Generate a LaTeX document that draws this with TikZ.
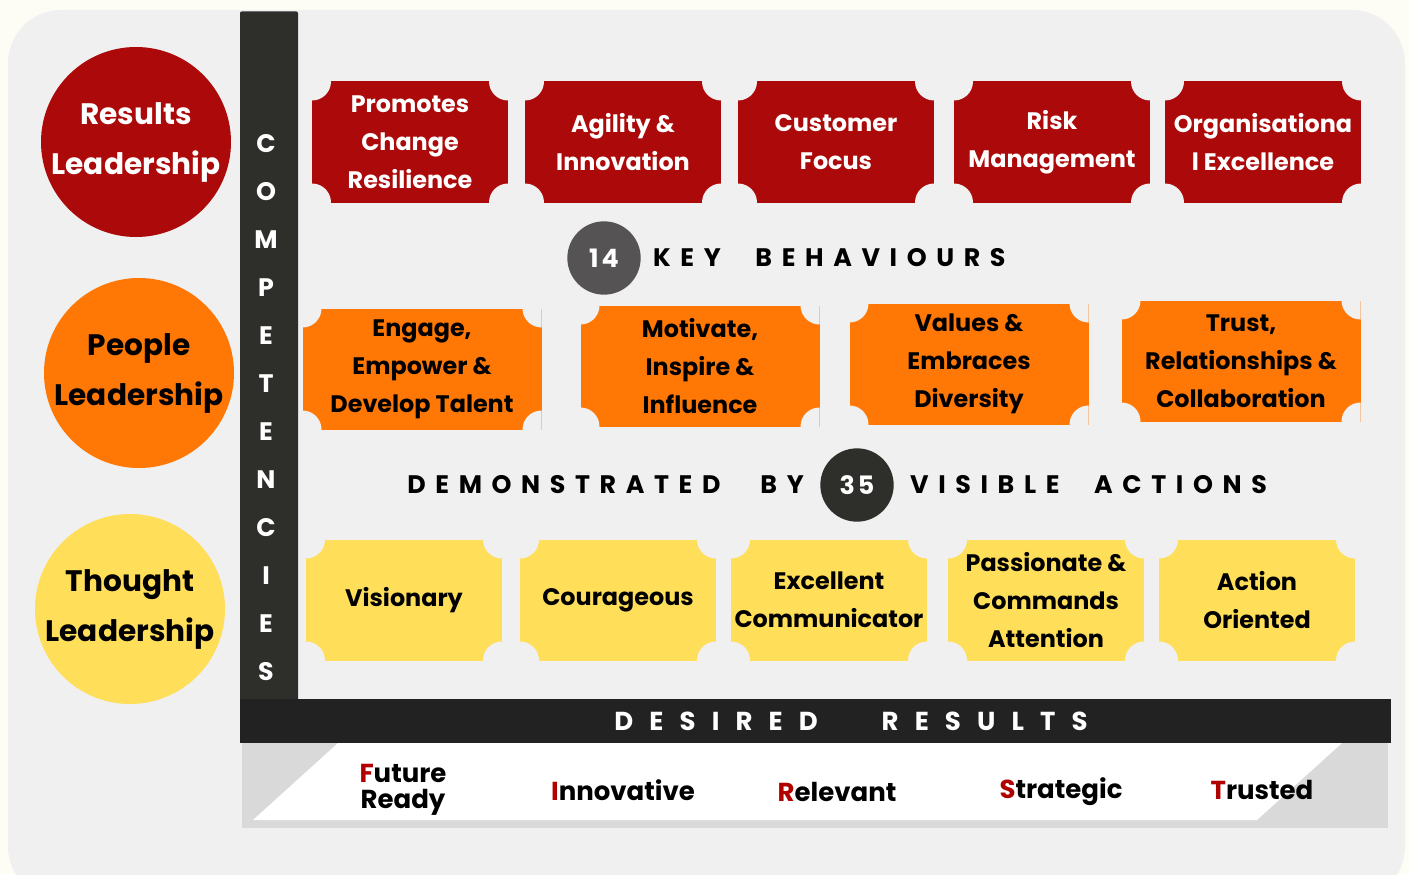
\documentclass[tikz,border=0pt]{standalone}
\usepackage{fontspec}
\setmainfont{Poppins}
\usetikzlibrary{positioning}

\definecolor{cream}{HTML}{FDFDF5}
\definecolor{panel}{HTML}{F0F0F0}
\definecolor{resred}{HTML}{AC0A0A}
\definecolor{peoorange}{HTML}{FF7805}
\definecolor{thoyellow}{HTML}{FFDE59}
\definecolor{barblack}{HTML}{2E2E2B}
\definecolor{bandblack}{HTML}{222222}
\definecolor{bandgray}{HTML}{D9D9D9}
\definecolor{numgray}{HTML}{555353}
\definecolor{initred}{HTML}{B00000}

\newcommand{\spaced}{\addfontfeatures{LetterSpace=38}}
\newcommand{\widespaced}{\addfontfeatures{LetterSpace=62}}

\begin{document}
\begin{tikzpicture}[x=0.75pt,y=-0.75pt,
    lead node/.style={circle,minimum size=142.5pt,inner sep=0pt,align=center,
                      font=\bfseries\fontsize{22.2}{37.5}\selectfont},
    ticket/.style={minimum width=147pt,minimum height=90.75pt,inner sep=0pt,align=center,
                   font=\bfseries\fontsize{17.9}{28.5}\selectfont,
                   path picture={\foreach \c in {north west,north east,south west,south east}
                     \fill[panel] (path picture bounding box.\c) circle[radius=14.25pt];}},
    wide ticket/.style={ticket,minimum width=179.25pt},
    count node/.style={circle,minimum size=55pt,inner sep=0pt,text=white,
                       font=\bfseries\fontsize{19}{19}\selectfont\addfontfeatures{LetterSpace=12}},
    heading/.style={inner sep=0pt,font=\bfseries\fontsize{19}{19}\selectfont\spaced},
    vert letter/.style={text=white,inner sep=0pt,font=\bfseries\fontsize{19}{19}\selectfont},
    result/.style={inner sep=0pt,align=center,font=\bfseries\fontsize{19.5}{19.5}\selectfont}]

  % background
  \fill[cream] (0,0) rectangle (1409,874);
  \useasboundingbox (0,0) rectangle (1409,874);
  \fill[panel,rounded corners=40pt] (8,10) rectangle (1405,900);

  % competencies bar
  \node[fill=barblack,rounded corners=1.5pt,minimum width=43.5pt,minimum height=517pt,inner sep=0pt] (comp) at (269,356) {};
  \foreach \l [count=\i] in {C,O,M,P,E,T,E,N,C,I,E,S}
    \node[vert letter] (let\i) at (266,96+48*\i) {\l};

  % leadership circles
  \node[lead node,fill=resred,text=white] (results) at (136,142) {Results\\Leadership};
  \node[lead node,fill=peoorange] (people) at (139,373) {People\\Leadership};
  \node[lead node,fill=thoyellow] (thought) at (130,609) {Thought\\Leadership};

  % results row
  \node[ticket,fill=resred,text=white] (res1) at (410,142) {Promotes\\Change\\Resilience};
  \node[ticket,fill=resred,text=white] (res2) at (623,142) {Agility \&\\Innovation};
  \node[ticket,fill=resred,text=white] (res3) at (836,142) {Customer\\Focus};
  \node[ticket,fill=resred,text=white] (res4) at (1052,142) {Risk\\Management};
  \node[ticket,fill=resred,text=white] (res5) at (1263,142) {Organisationa\\l Excellence};

  \node[count node,fill=numgray] (n14) at (604,258) {14};
  \node[heading,anchor=west,right=9pt of n14] (keyb) {KEY\hspace{26pt}BEHAVIOURS};

  % people row
  \node[wide ticket,fill=peoorange] (peo1) at (422,369) {Engage,\\Empower \&\\Develop Talent};
  \node[wide ticket,fill=peoorange] (peo2) at (700,366) {Motivate,\\Inspire \&\\Influence};
  \node[wide ticket,fill=peoorange] (peo3) at (969,364) {Values \&\\Embraces\\Diversity};
  \node[wide ticket,fill=peoorange] (peo4) at (1241,361) {Trust,\\Relationships \&\\Collaboration};

  \node[count node,fill=barblack] (n35) at (857,485) {35};
  \node[heading,anchor=east,left=12pt of n35] (demo) {DEMONSTRATED\hspace{30pt}BY};
  \node[heading,anchor=west,right=12pt of n35] (visa) {VISIBLE\hspace{26pt}ACTIONS};

  % thought row
  \node[ticket,fill=thoyellow] (tho1) at (404,600) {Visionary};
  \node[ticket,fill=thoyellow] (tho2) at (618,600) {Courageous};
  \node[ticket,fill=thoyellow] (tho3) at (829,600) {Excellent\\Communicator};
  \node[ticket,fill=thoyellow] (tho4) at (1046,600) {Passionate \&\\Commands\\Attention};
  \node[ticket,fill=thoyellow] (tho5) at (1257,600) {Action\\Oriented};

  % desired results
  \node[fill=bandblack,minimum width=863.25pt,minimum height=33pt,inner sep=0pt] (desired) at (815.5,721) {};
  \node[heading,text=white,font=\bfseries\fontsize{19.5}{19.5}\selectfont\widespaced] (desiredtxt) at (851,721) {DESIRED\hspace{48pt}RESULTS};
  \fill[bandgray] (242,743) rectangle (1388,828);
  \fill[white] (253,820) -- (338,743) -- (1342,743) -- (1257,820) -- cycle;

  \node[result] (future) at (403,790) {\textcolor{initred}{F}uture\\Ready};
  \node[result] (innov) at (623,790) {\textcolor{initred}{I}nnovative};
  \node[result] (relev) at (837,792) {\textcolor{initred}{R}elevant};
  \node[result] (strat) at (1061,792) {\textcolor{initred}{S}trategic};
  \node[result] (trust) at (1262,790) {\textcolor{initred}{T}rusted};
\end{tikzpicture}
\end{document}
